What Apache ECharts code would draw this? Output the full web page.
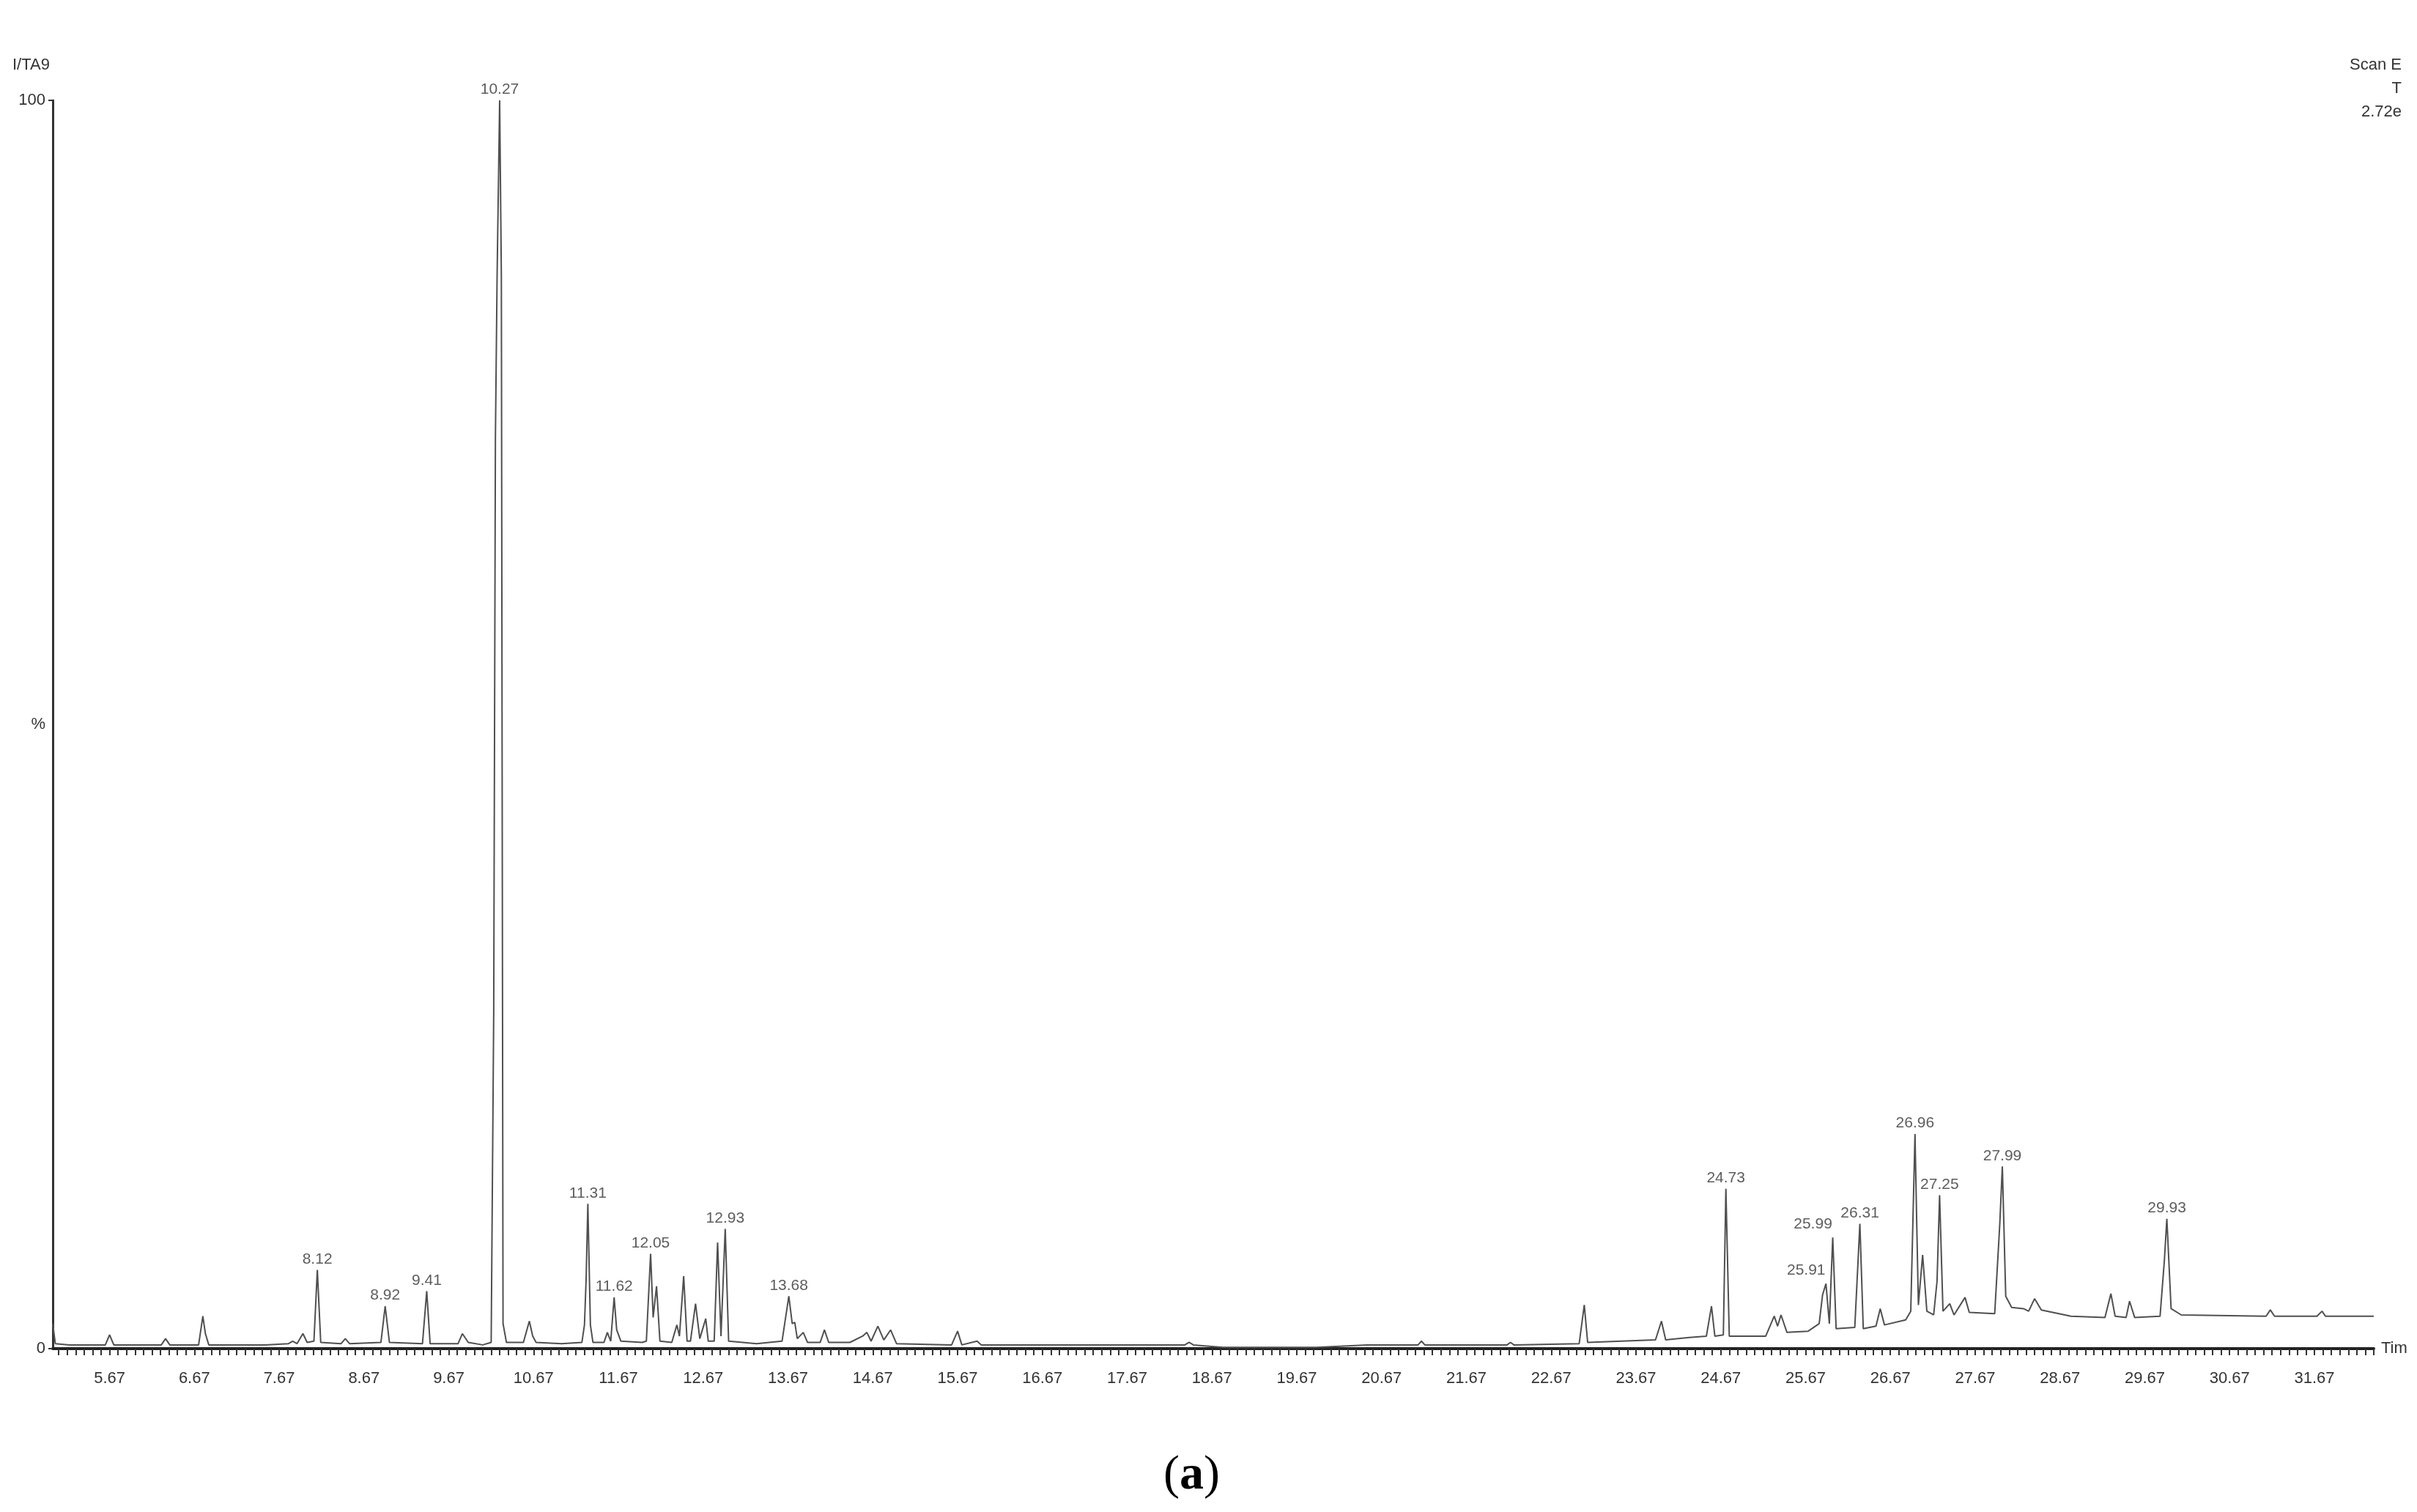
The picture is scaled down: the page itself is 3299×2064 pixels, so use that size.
<!DOCTYPE html>
<html>
<head>
<meta charset="utf-8">
<script src="https://cdn.jsdelivr.net/npm/echarts@6/dist/echarts.min.js"></script>
<style>
  html, body { margin: 0; padding: 0; background: #fff; }
  #chart { width: 3299px; height: 2064px; }
</style>
</head>
<body>
<div id="chart"></div>
<script>
// retention time (min) and relative intensity (%)
const times = [
  5.00, 5.03, 5.20, 5.62, 5.67, 5.72, 6.28, 6.33, 6.38, 6.72, 6.77, 6.80, 6.84,
  7.50, 7.78, 7.83, 7.88, 7.95, 8.00, 8.08, 8.12, 8.16, 8.40, 8.45, 8.50,
  8.87, 8.92, 8.97, 9.36, 9.41, 9.45, 9.78, 9.83, 9.90, 10.07,
  10.17, 10.20, 10.22, 10.24, 10.27, 10.29, 10.31, 10.35,
  10.55, 10.62, 10.66, 10.70, 11.00, 11.24, 11.27, 11.29, 11.31, 11.34, 11.37,
  11.50, 11.54, 11.58, 11.62, 11.65, 11.70, 11.95, 12.00, 12.05, 12.08, 12.12, 12.16,
  12.30, 12.36, 12.39, 12.44, 12.48, 12.52, 12.58, 12.63, 12.70, 12.73,
  12.80, 12.84, 12.88, 12.93, 12.97, 13.30, 13.60, 13.68, 13.72, 13.75, 13.78, 13.85, 13.90,
  14.05, 14.10, 14.15, 14.40, 14.55, 14.60, 14.65, 14.73, 14.80, 14.88, 14.95,
  15.60, 15.67, 15.72, 15.90, 15.95, 16.50, 17.50, 18.35, 18.40, 18.45, 18.80,
  19.30, 19.90, 20.50, 21.10, 21.14, 21.18, 22.15, 22.19, 22.23, 23.00, 23.06, 23.10,
  23.50, 23.90, 23.97, 24.02, 24.30, 24.50, 24.56, 24.60, 24.70, 24.73, 24.77,
  25.20, 25.30, 25.34, 25.38, 25.45, 25.70, 25.83, 25.87, 25.91, 25.95, 25.99, 26.03,
  26.25, 26.31, 26.35, 26.50, 26.55, 26.60, 26.85, 26.91, 26.96, 26.98, 27.00, 27.05, 27.10,
  27.18, 27.22, 27.25, 27.29, 27.37, 27.42, 27.55, 27.60, 27.90, 27.96, 27.99, 28.03,
  28.10, 28.24, 28.30, 28.37, 28.45, 28.80, 29.20, 29.27, 29.32, 29.45, 29.49, 29.55,
  29.85, 29.90, 29.93, 29.98, 30.10, 31.10, 31.15, 31.20, 31.70, 31.76, 31.80, 32.37
];
const intensity = [
  2.0, 0.4, 0.3, 0.3, 1.1, 0.3, 0.3, 0.8, 0.3, 0.3, 2.6, 1.2, 0.3,
  0.3, 0.4, 0.6, 0.4, 1.2, 0.5, 0.6, 6.3, 0.5, 0.4, 0.8, 0.4,
  0.5, 3.4, 0.5, 0.4, 4.6, 0.4, 0.4, 1.2, 0.5, 0.3,
  0.5, 27, 73, 86, 100, 86, 2.0, 0.5,
  0.5, 2.2, 1.0, 0.5, 0.4, 0.5, 1.9, 5.6, 11.6, 1.9, 0.5,
  0.5, 1.3, 0.6, 4.1, 1.5, 0.6, 0.5, 0.6, 7.6, 2.5, 5.0, 0.6,
  0.5, 1.9, 1.0, 5.8, 0.6, 0.6, 3.6, 0.8, 2.4, 0.6,
  0.6, 8.5, 1.0, 9.6, 0.6, 0.4, 0.6, 4.2, 2.0, 2.1, 0.8, 1.3, 0.5,
  0.5, 1.5, 0.5, 0.5, 1.0, 1.3, 0.6, 1.8, 0.7, 1.5, 0.4,
  0.3, 1.4, 0.3, 0.6, 0.3, 0.3, 0.3, 0.3, 0.5, 0.3, 0.1,
  0.1, 0.1, 0.3, 0.3, 0.6, 0.3, 0.3, 0.5, 0.3, 0.4, 3.5, 0.5,
  0.6, 0.7, 2.2, 0.7, 0.9, 1.0, 3.4, 1.0, 1.1, 12.8, 1.0,
  1.0, 2.6, 1.8, 2.7, 1.3, 1.4, 2.0, 4.3, 5.2, 2.0, 8.9, 1.6,
  1.7, 10.0, 1.6, 1.8, 3.2, 1.9, 2.3, 3.0, 17.2, 10.2, 3.5, 7.5, 3.0,
  2.7, 5.4, 12.3, 3.0, 3.6, 2.7, 4.1, 2.9, 2.8, 10.0, 14.6, 4.2,
  3.3, 3.2, 3.0, 4.0, 3.1, 2.6, 2.5, 4.4, 2.6, 2.5, 3.8, 2.5,
  2.6, 7.0, 10.4, 3.2, 2.7, 2.6, 3.1, 2.6, 2.6, 3.0, 2.6, 2.6
];

// labelled peaks
const peakTimes = [8.12, 8.92, 9.41, 10.27, 11.31, 11.62, 12.05, 12.93, 13.68,
  24.73, 25.91, 25.99, 26.31, 26.96, 27.25, 27.99, 29.93];
const peakHeights = [6.3, 3.4, 4.6, 100, 11.6, 4.1, 7.6, 9.6, 4.2,
  12.8, 5.2, 8.9, 10.0, 17.2, 12.3, 14.6, 10.4];
const peakTexts = ['8.12', '8.92', '9.41', '10.27', '11.31', '11.62', '12.05', '12.93', '13.68',
  '24.73', '25.91', '25.99', '26.31', '26.96', '27.25', '27.99', '29.93'];

const xTickLabels = [5.67, 6.67, 7.67, 8.67, 9.67, 10.67, 11.67, 12.67, 13.67, 14.67,
  15.67, 16.67, 17.67, 18.67, 19.67, 20.67, 21.67, 22.67, 23.67, 24.67, 25.67, 26.67,
  27.67, 28.67, 29.67, 30.67, 31.67];
const yTickLabels = [0, 100];

const xMin = 5.0, xMax = 32.37;
// small ticks every 0.1 min, lined up with the labelled ones
const minorTicks = [];
for (let v = 5.07; v <= xMax + 1e-6; v += 0.1) minorTicks.push(Math.round(v * 100) / 100);

// these two labels sit off to the left of their peaks
const shifted = ['25.91', '25.99'];

const font = "'Liberation Sans Narrow', 'Liberation Sans', Arial, sans-serif";
const txt = '#333';

const myChart = echarts.init(document.getElementById('chart'));
const option = {
  animation: false,
  backgroundColor: '#fff',
  grid: { left: 72, right: 59, top: 137, bottom: 223, containLabel: false },
  xAxis: {
    type: 'value',
    min: xMin,
    max: xMax,
    name: 'Tim',
    nameLocation: 'end',
    nameGap: 10,
    nameTextStyle: { fontFamily: font, fontSize: 22, color: txt },
    axisLine: { show: true, onZero: false, lineStyle: { color: '#222', width: 4 } },
    axisTick: { show: true, customValues: minorTicks, length: 9, lineStyle: { color: '#333', width: 2 } },
    axisLabel: {
      customValues: xTickLabels,
      formatter: v => v.toFixed(2),
      margin: 30,
      fontFamily: font,
      fontSize: 22,
      color: txt
    },
    splitLine: { show: false }
  },
  yAxis: {
    type: 'value',
    min: 0,
    max: 100,
    axisLine: { show: true, lineStyle: { color: '#333', width: 3 } },
    axisTick: { show: true, customValues: yTickLabels, length: 6, lineStyle: { color: '#333', width: 2 } },
    axisLabel: {
      customValues: [0, 50, 100],
      formatter: v => (v === 50 ? '%' : String(v)),
      margin: 10,
      fontFamily: font,
      fontSize: 22,
      color: txt
    },
    splitLine: { show: false }
  },
  series: [
    {
      name: 'TIC',
      type: 'line',
      data: times.map((t, i) => [t, intensity[i]]),
      showSymbol: false,
      symbol: 'none',
      lineStyle: { color: '#505050', width: 2 },
      z: 3
    },
    {
      name: 'peaks',
      type: 'scatter',
      symbolSize: 0,
      data: peakTimes.map((t, i) => {
        const item = { value: [t, peakHeights[i]] };
        if (shifted.indexOf(peakTexts[i]) >= 0) item.label = { offset: [-27, -4] };
        return item;
      }),
      label: {
        show: true,
        position: 'top',
        distance: 4,
        formatter: p => peakTexts[p.dataIndex],
        fontFamily: font,
        fontSize: 21,
        color: txt
      },
      z: 4
    }
  ],
  graphic: [
    { type: 'text', left: 17, top: 78, style: { text: 'I/TA9', font: `22px ${font}`, fill: txt } },
    { type: 'text', right: 21, top: 78, style: { text: 'Scan E', font: `22px ${font}`, fill: txt, align: 'right' } },
    { type: 'text', right: 21, top: 110, style: { text: 'T', font: `22px ${font}`, fill: txt, align: 'right' } },
    { type: 'text', right: 21, top: 142, style: { text: '2.72e', font: `22px ${font}`, fill: txt, align: 'right' } },
    {
      type: 'text',
      left: 1588,
      top: 1982,
      style: {
        text: '{p|(}{b|a}{p|)}',
        rich: {
          p: { fontFamily: "'Liberation Serif', 'Times New Roman', serif", fontSize: 66, fill: '#000' },
          b: { fontFamily: "'Liberation Serif', 'Times New Roman', serif", fontSize: 66, fontWeight: 'bold', fill: '#000' }
        }
      }
    }
  ]
};
myChart.setOption(option);
</script>
</body>
</html>
